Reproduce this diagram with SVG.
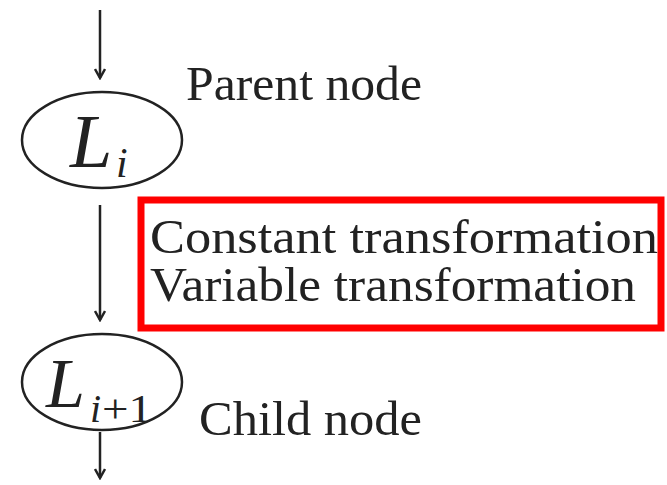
<svg xmlns="http://www.w3.org/2000/svg" width="667" height="485" viewBox="0 0 667 485">
<style>
.t{font-family:"Liberation Serif","Times New Roman",serif;fill:#222;}
.m{font-family:"Liberation Serif","Times New Roman",serif;font-style:italic;fill:#222;}
.e{fill:none;stroke:#222;stroke-width:2.5;}
.c{stroke:#222;stroke-width:2.5;fill:none;}
</style>
<defs>
<marker id="ah" markerWidth="12" markerHeight="12" refX="10" refY="6" orient="auto" markerUnits="userSpaceOnUse">
<path d="M1,1 L10,6 L1,11" fill="none" stroke="#222" stroke-width="2.5"/>
</marker>
</defs>
<rect width="667" height="485" fill="#fff"/>
<g id="connectors">
<line class="c" x1="100" y1="10" x2="100" y2="78" marker-end="url(#ah)"/>
<line class="c" x1="100" y1="205" x2="100" y2="320" marker-end="url(#ah)"/>
<line class="c" x1="100" y1="432" x2="100" y2="478" marker-end="url(#ah)"/>
</g>
<g id="parent">
<ellipse class="e" cx="102" cy="140" rx="80" ry="48"/>
<text class="m" x="70" y="167" font-size="76">L</text>
<text class="m" x="116" y="177" font-size="42">i</text>
<text class="t" x="186" y="100" font-size="48" textLength="236" lengthAdjust="spacingAndGlyphs">Parent node</text>
</g>
<g id="transform">
<rect x="141" y="200" width="520" height="128" fill="none" stroke="#f00" stroke-width="7"/>
<text class="t" x="150" y="253" font-size="48" textLength="508" lengthAdjust="spacingAndGlyphs">Constant transformation</text>
<text class="t" x="150" y="301" font-size="48" textLength="486" lengthAdjust="spacingAndGlyphs">Variable transformation</text>
</g>
<g id="child">
<ellipse class="e" cx="102" cy="382" rx="80" ry="48"/>
<text class="m" x="46" y="407" font-size="70">L</text>
<text class="m" x="90" y="422" font-size="40">i</text>
<text class="t" x="102" y="422" font-size="40" textLength="50" lengthAdjust="spacingAndGlyphs">+1</text>
<text class="t" x="199" y="435" font-size="48" textLength="223" lengthAdjust="spacingAndGlyphs">Child node</text>
</g>
</svg>
